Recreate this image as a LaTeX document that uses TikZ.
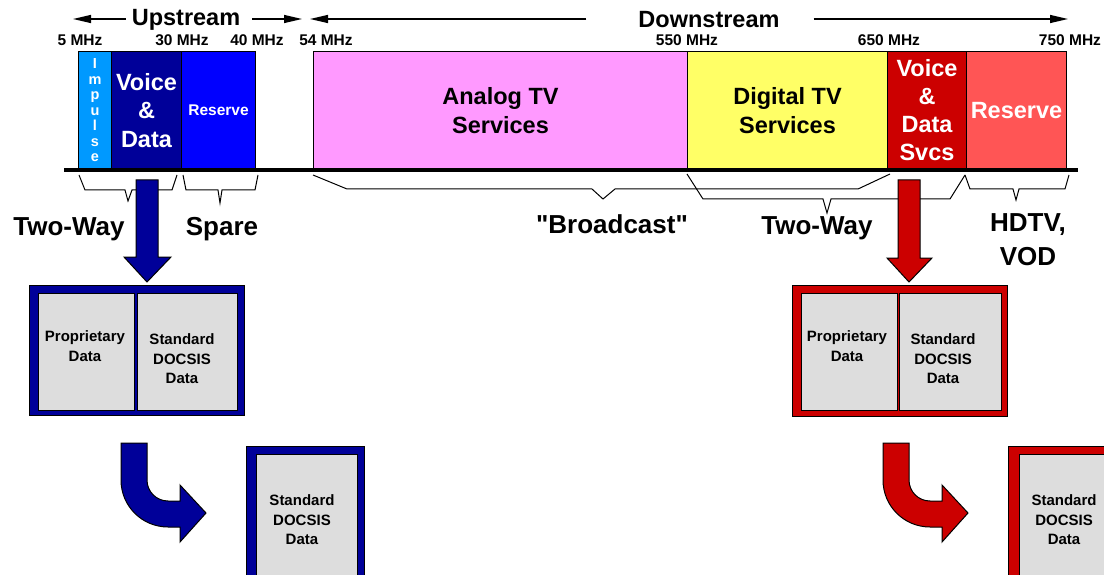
\documentclass[tikz,border=0pt]{standalone}
\usepackage{fontspec}
\setmainfont{Liberation Sans}[Ligatures=TeXOff]
\usetikzlibrary{arrows.meta}
\definecolor{cimp}{HTML}{0099FF}
\definecolor{cnavy}{HTML}{000099}
\definecolor{cblue}{HTML}{0000FF}
\definecolor{cpink}{HTML}{FF99FF}
\definecolor{cyel}{HTML}{FFFF66}
\definecolor{cdred}{HTML}{CC0000}
\definecolor{clred}{HTML}{FF5555}
\definecolor{cgrey}{HTML}{DDDDDD}
\tikzset{
  band/.style={draw=black, line width=1pt, inner sep=0pt, anchor=north west, minimum height=118pt, align=center, font=\bfseries\fontsize{23.5}{28.5}\selectfont},
  mhz/.style={font=\bfseries\fontsize{15.5}{18}\selectfont, inner sep=0pt},
  big/.style={font=\bfseries\fontsize{23.5}{28}\selectfont, inner sep=0pt},
  huge/.style={font=\bfseries\fontsize{26}{34}\selectfont, inner sep=0pt, align=center},
  boxtxt/.style={font=\bfseries\fontsize{15}{19.5}\selectfont, inner sep=0pt, align=center},
  dirarrow/.style={line width=1.3pt, -{Triangle[length=18pt,width=8pt]}},
  brace/.style={line width=1pt},
  blockarrow/.style={draw=black, line width=1pt},
  frame/.style={draw=black, line width=1pt},
  cell/.style={draw=black, line width=1.3pt, fill=cgrey}
}
\begin{document}
\begin{tikzpicture}[x=1pt,y=-1pt]
\useasboundingbox (0,0) rectangle (1104,575);
\clip (0,0) rectangle (1104,575);
% direction labels
\node[big] (up) at (186,20) {Upstream};
\node[big] (down) at (709,20) {Downstream};
\coordinate (upL) at (73,19);
\coordinate (upR) at (302,19);
\coordinate (dnL) at (310,19);
\coordinate (dnR) at (1068,19);
\draw[dirarrow] (up.west) ++(-6,-1) -- (upL);
\draw[dirarrow] (up.east) ++(12,-1) -- (upR);
\draw[dirarrow] (down.west) ++(-52,-1) -- (dnL);
\draw[dirarrow] (down.east) ++(34,-1) -- (dnR);
% MHz labels
\node[mhz] (f5) at (80,40) {5 MHz};
\node[mhz] (f30) at (182,40) {30 MHz};
\node[mhz] (f40) at (257,40) {40 MHz};
\node[mhz] (f54) at (326,40) {54 MHz};
\node[mhz] (f550) at (687,40) {550 MHz};
\node[mhz] (f650) at (889,40) {650 MHz};
\node[mhz] (f750) at (1070,40) {750 MHz};
% bands
\node[band, fill=cimp, minimum width=33pt, text=white, font=\bfseries\fontsize{14.5}{15.5}\selectfont] (imp) at (78,51) {I\\m\\p\\u\\l\\s\\e};
\node[band, fill=cnavy, minimum width=70pt, text=white] (vd) at (111,51) {Voice\\\&\\Data};
\node[band, fill=cblue, minimum width=74pt, text=white, font=\bfseries\fontsize{15.5}{18}\selectfont] (res1) at (181,51) {Reserve};
\node[band, fill=cpink, minimum width=374pt] (atv) at (313,51) {Analog TV\\Services};
\node[band, fill=cyel, minimum width=200pt] (dtv) at (687,51) {Digital TV\\Services};
\node[band, fill=cdred, minimum width=79pt, text=white, font=\bfseries\fontsize{23.5}{28}\selectfont] (vds) at (887,51) {Voice\\\&\\Data\\Svcs};
\node[band, fill=clred, minimum width=100pt, text=white] (res2) at (966,51) {Reserve};
% baseline
\draw[line width=3.5pt] (64,170) -- (1078,170);
% braces
\draw[brace] (79,175) -- (85,190) -- (125,190) -- (128,201) -- (132,190) -- (172,190) -- (177,175);
\draw[brace] (183,175) -- (186,190) -- (218,190) -- (220,203) -- (222,190) -- (255,190) -- (258,175);
\draw[brace] (313,175) -- (347,189) -- (592,189) -- (603,199) -- (615,189) -- (858,189) -- (890,174);
\draw[brace] (687,174) -- (703,199) -- (823,199) -- (827,213) -- (831,199) -- (950,199) -- (965,175);
\draw[brace] (965,175) -- (970,189) -- (1013,189) -- (1016,200) -- (1019,189) -- (1065,189) -- (1069,175);
% brace labels
\node[huge] (tw1) at (69,229) {Two-Way};
\node[huge] (spare) at (222,229) {Spare};
\node[huge] (bc) at (612,224) {"Broadcast"};
\node[huge] (tw2) at (817,228) {Two-Way};
\node[huge] (hd) at (1028,240) {HDTV,\\VOD};
% down arrows
\draw[blockarrow, fill=cnavy] (136,180) -- (158,180) -- (158,257) -- (171,257) -- (147,282) -- (124,257) -- (136,257) -- cycle;
\draw[blockarrow, fill=cdred] (898,180) -- (920,180) -- (920,258) -- (932,258) -- (909,282) -- (887,258) -- (898,258) -- cycle;
% big boxes (upstream)
\draw[frame, fill=cnavy] (29,285) rectangle (244,415);
\node[cell, minimum width=96pt, minimum height=117pt, anchor=north west, inner sep=0pt] (pd1) at (38,293) {};
\node[cell, minimum width=100pt, minimum height=117pt, anchor=north west, inner sep=0pt] (sd1) at (137,293) {};
\node[boxtxt] at (85,346) {Proprietary\\Data};
\node[boxtxt] at (182,359) {Standard\\DOCSIS\\Data};
% big boxes (downstream)
\draw[frame, fill=cdred] (792,285) rectangle (1007,416);
\node[cell, minimum width=96pt, minimum height=117pt, anchor=north west, inner sep=0pt] (pd2) at (801,293) {};
\node[cell, minimum width=102pt, minimum height=117pt, anchor=north west, inner sep=0pt] (sd2) at (899,293) {};
\node[boxtxt] at (847,346) {Proprietary\\Data};
\node[boxtxt] at (943,359) {Standard\\DOCSIS\\Data};
% curved arrows
\foreach \dx/\col in {0/cnavy, 762/cdred}{
  \begin{scope}[xshift=\dx]
  \draw[blockarrow, fill=\col] (121,443) -- (147,443) -- (147,480)
     .. controls (147,491.6) and (156.4,501) .. (168,501)
     -- (180,501) -- (180,485) -- (206,513) -- (180,542) -- (180,527) -- (168,527)
     .. controls (142,527) and (121,506) .. (121,480) -- cycle;
  \end{scope}
}
% small boxes
\draw[frame, fill=cnavy] (246,446) rectangle (364,590);
\node[cell, minimum width=101pt, minimum height=130pt, anchor=north west, inner sep=0pt] (s1) at (256,454) {};
\node[boxtxt] at (302,520) {Standard\\DOCSIS\\Data};
\draw[frame, fill=cdred] (1008,446) rectangle (1126,590);
\node[cell, minimum width=101pt, minimum height=130pt, anchor=north west, inner sep=0pt] (s2) at (1019,454) {};
\node[boxtxt] at (1064,520) {Standard\\DOCSIS\\Data};
\end{tikzpicture}
\end{document}
